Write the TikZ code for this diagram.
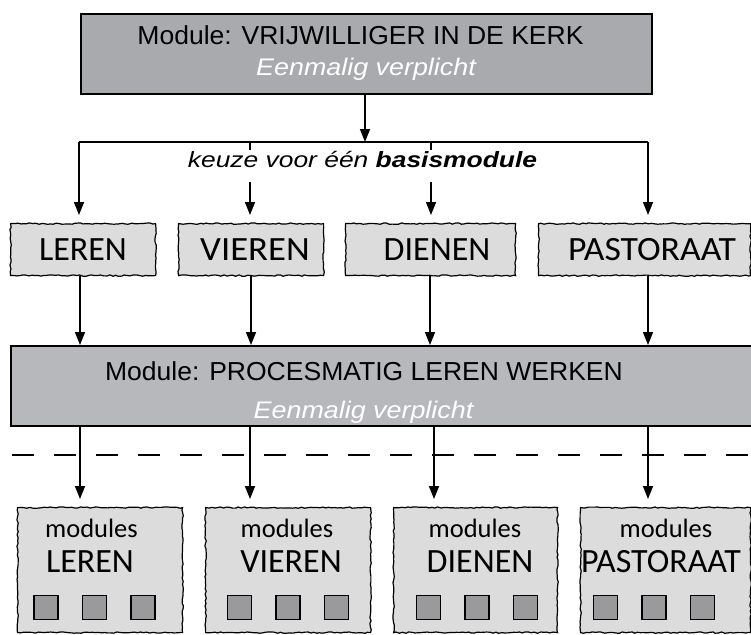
\documentclass[tikz,border=0pt]{standalone}
\usepackage{graphicx}
\usepackage{fontspec}
\setmainfont{Liberation Sans}
\newfontfamily\hand{Carlito}
\usetikzlibrary{arrows.meta,decorations.pathmorphing,calc}
\definecolor{darkbox}{HTML}{A9AAAD}
\definecolor{midbox}{HTML}{B7B8BB}
\definecolor{lightbox}{HTML}{DCDCDD}
\definecolor{sqfill}{HTML}{9A9A9C}
\begin{document}
\begin{tikzpicture}[x=1pt,y=-1pt,
  solidbox/.style={draw=black, line width=2pt, anchor=north west, inner sep=0pt},
  roughbox/.style={draw=black, fill=lightbox, line width=1.2pt, anchor=north west, inner sep=0pt,
     decorate, decoration={random steps, segment length=3pt, amplitude=0.7pt}},
  sqbox/.style={draw=black, fill=sqfill, line width=1.6pt, minimum width=24pt, minimum height=24pt, inner sep=0pt},
  arr/.style={line width=1.5pt, -{Triangle[length=13pt,width=10pt]}},
  plain/.style={line width=1.5pt},
  title/.style={font=\fontsize{26}{30}\selectfont, inner sep=0pt, anchor=base},
  sub/.style={font=\fontsize{24}{28}\selectfont\itshape, text=white, inner sep=0pt, anchor=base},
  capstxt/.style={font=\hand\fontsize{34}{38}\selectfont, inner sep=0pt, anchor=base},
  lowtxt/.style={font=\hand\fontsize{26.5}{30}\selectfont, inner sep=0pt, anchor=base},
]
\useasboundingbox (0,0) rectangle (751,634);
\clip (0,0) rectangle (751,634);
\pgfmathsetseed{7}

% top box
\node (top) [solidbox, fill=darkbox, minimum width=571pt, minimum height=80pt] at (80,13) {};
\node (toptitle) [title] at (360.5,45) {\scalebox{1.02}[1]{Module: VRIJWILLIGER IN DE KERK}};
\node (topsub) [sub] at (366,75) {\scalebox{1.12}[1]{Eenmalig verplicht}};

% branch line
\coordinate (split) at (365,142);
\coordinate (b1) at (79,142);
\coordinate (b2) at (250,142);
\coordinate (b3) at (431,142);
\coordinate (b4) at (648,142);
\draw[arr] (top.south -| split) -- (split);
\draw[plain] (b1) -- (b4);

% row 2 boxes
\node (leren) [roughbox, minimum width=145pt, minimum height=52pt] at (10,223) {};
\node (vieren) [roughbox, minimum width=145pt, minimum height=52pt] at (178,223) {};
\node (dienen) [roughbox, minimum width=170pt, minimum height=52pt] at (345,223) {};
\node (pastoraat) [roughbox, minimum width=212pt, minimum height=52pt] at (538,223) {};
\node (lerent) [capstxt] at (83,260) {LEREN};
\node (vierent) [capstxt] at (255,260) {\scalebox{1.08}[1]{VIEREN}};
\node (dienent) [capstxt] at (437,260) {DIENEN};
\node (pastoraatt) [capstxt] at (652,260) {\scalebox{1.05}[1]{PASTORAAT}};

\draw[arr, shorten >=8pt] (b1) -- (b1 |- leren.north);
\draw[arr, shorten >=8pt] (b2) -- (b2 |- vieren.north);
\draw[arr, shorten >=8pt] (b3) -- (b3 |- dienen.north);
\draw[arr, shorten >=8pt] (b4) -- (b4 |- pastoraat.north);

\node (keuze) [fill=white, inner xsep=3pt, inner ysep=0pt, text height=17pt, text depth=15pt,
  anchor=base, font=\fontsize{22}{26}\selectfont] at (362.5,167)
  {\scalebox{1.2}[1]{\itshape keuze voor één \textbf{basismodule}}};

% middle box
\node (mid) [solidbox, fill=midbox, minimum width=760pt, minimum height=80pt] at (10,345) {};
\node (midtitle) [title] at (364,380) {\scalebox{1.02}[1]{Module: PROCESMATIG LEREN WERKEN}};
\node (midsub) [sub] at (363.5,418) {\scalebox{1.12}[1]{Eenmalig verplicht}};

\coordinate (c1) at (80,0);
\coordinate (c2) at (251,0);
\coordinate (c3) at (430,0);
\coordinate (c4) at (648,0);
\draw[arr] (c1 |- leren.south) -- (c1 |- mid.north);
\draw[arr] (c2 |- vieren.south) -- (c2 |- mid.north);
\draw[arr] (c3 |- dienen.south) -- (c3 |- mid.north);
\draw[arr] (c4 |- pastoraat.south) -- (c4 |- mid.north);

% dashed line
\coordinate (dl) at (12,455);
\coordinate (dr) at (760,455);
\draw[line width=2.5pt, dash pattern=on 22pt off 20pt] (dl) -- (dr);

% bottom boxes
\node (m1) [roughbox, minimum width=165pt, minimum height=125pt] at (17,507) {};
\node (m2) [roughbox, minimum width=165pt, minimum height=125pt] at (205,507) {};
\node (m3) [roughbox, minimum width=164pt, minimum height=125pt] at (393,507) {};
\node (m4) [roughbox, minimum width=170pt, minimum height=125pt] at (580,507) {};

\coordinate (d1) at (80,0);
\coordinate (d2) at (250,0);
\coordinate (d3) at (434,0);
\coordinate (d4) at (648,0);
\draw[arr, shorten >=8pt] (d1 |- mid.south) -- (d1 |- m1.north);
\draw[arr, shorten >=8pt] (d2 |- mid.south) -- (d2 |- m2.north);
\draw[arr, shorten >=8pt] (d3 |- mid.south) -- (d3 |- m3.north);
\draw[arr, shorten >=8pt] (d4 |- mid.south) -- (d4 |- m4.north);

\foreach \b/\t/\xa/\xb/\xs in {m1/LEREN/91.5/90/94.5, m2/VIEREN/287/291/288, m3/DIENEN/475/480/477, m4/PASTORAAT/666/661/654}{
  \node (\b a) [lowtxt] at (\xa,537) {modules};
  \node (\b b) [capstxt] at (\xb,572) {\t};
  \node (\b s1) [sqbox] at (\xs-48.5,607.5) {};
  \node (\b s2) [sqbox] at (\xs,607.5) {};
  \node (\b s3) [sqbox] at (\xs+48.5,607.5) {};
}
\end{tikzpicture}
\end{document}
